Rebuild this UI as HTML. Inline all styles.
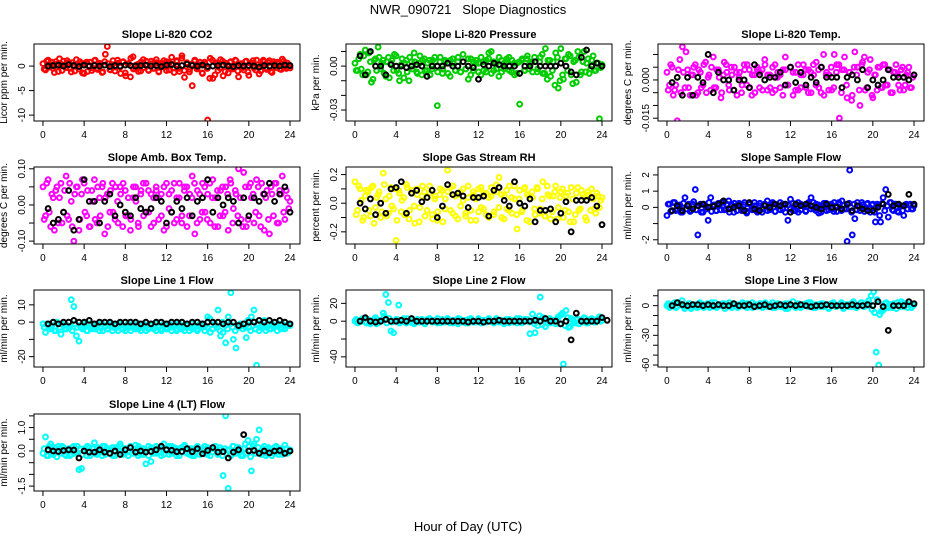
<!DOCTYPE html>
<html><head><meta charset="utf-8"><style>
html,body{margin:0;padding:0;background:#fff}
svg{display:block;font-family:"Liberation Sans",sans-serif}
</style></head><body>
<svg id="chart" width="936" height="540" viewBox="0 0 936 540" xmlns="http://www.w3.org/2000/svg">
<text x="468" y="14" text-anchor="middle" font-size="13" xml:space="preserve">NWR_090721   Slope Diagnostics</text>
<text x="468" y="531" text-anchor="middle" font-size="13">Hour of Day (UTC)</text>
</svg>
<script>
const xTicks=[0,4,8,12,16,20,24];
const titles=["Slope Li-820 CO2","Slope Li-820 Pressure","Slope Li-820 Temp.","Slope Amb. Box Temp.","Slope Gas Stream RH","Slope Sample Flow","Slope Line 1 Flow","Slope Line 2 Flow","Slope Line 3 Flow","Slope Line 4 (LT) Flow"];
const yLabels=["Licor ppm per min.","kPa per min.","degrees C per min.","degrees C per min.","percent per min.","ml/min per min.","ml/min per min.","ml/min per min.","ml/min per min.","ml/min per min."];
const colors=["#ff0000","#00cc00","#ff00ff","#ff00ff","#ffff00","#0000ff","#00ffff","#00ffff","#00ffff","#00ffff"];
const yDomains=[[4.5,-11.2],[0.0151,-0.0375],[0.0141,-0.0161],[0.105,-0.108],[0.253,-0.285],[2.49,-2.26],[18.6,-26],[35,-51.4],[15.8,-62],[1.58,-1.71]];
const yTickVals=[[-10,-5,0],[0.01,0,-0.01,-0.02,-0.03],[0.01,0.005,0,-0.005,-0.01,-0.015],[0.1,0.05,0,-0.05,-0.1],[0.2,0.1,0,-0.1,-0.2],[2,1,0,-1,-2],[10,0,-10,-20],[20,0,-20,-40],[10,0,-10,-20,-30,-40,-50,-60],[1.5,1.0,0.5,0,-0.5,-1.0,-1.5]];
const yTickText=[["-10","-5","0"],["","0.00","","","-0.03"],["","","0.000","","","-0.015"],["0.10","","0.00","","-0.10"],["0.2","","0.0","","-0.2"],["2","1","0","","-2"],["10","0","","-20"],["20","0","","-40"],["","0","","","-30","","","-60"],["","1.0","","0.0","","","-1.5"]];
// colored series A and B (spread evenly over 0..24 h)
const seriesA=[
[0.5,-0.8,1.2,0.3,-0.5,0.9,-1.1,0.4,1.0,-0.3,0.7,-1.2,0.2,1.3,-0.6,0.5,-1.5,0.8,0.1,-0.9,1.1,-0.4,0.6,-1.3,0.9,4.0,-0.7,0.3,-1.0,1.2,-0.2,0.8,-1.4,0.5,-2.2,1.9,-0.6,0.4,-1.0,1.3,0.2,-0.8,1.0,-0.5,0.7,-1.2,0.3,1.1,-0.9,0.6,1.8,-0.4,0.9,-1.1,2.1,-2.3,0.5,-0.7,-4.0,1.2,-0.3,0.8,-1.5,0.4,-11.0,1.6,-2.5,0.7,-0.9,1.3,-2.0,0.6,-1.4,0.9,-0.3,1.1,-2.2,0.5,-0.8,1.0,-1.9,0.6,-0.4,1.2,-1.6,0.3,0.9,-0.7,1.1,-1.3,0.5,0.8,-0.6,1.4,-0.2,0.6,-0.4],
[0.002,-0.003,0.008,-0.006,0.011,-0.004,0.003,-0.009,0.005,0.013,-0.002,0.004,-0.007,0.006,0.002,-0.003,0.007,-0.005,0.001,-0.008,0.004,-0.010,0.003,0.009,-0.004,0.002,-0.006,0.005,-0.003,0.004,-0.002,0.006,-0.027,0.003,-0.005,0.004,0.002,-0.007,0.005,-0.003,0.003,-0.004,0.008,-0.002,0.005,-0.006,0.003,0.002,-0.004,0.006,-0.003,0.004,0.009,-0.005,0.003,-0.002,0.006,-0.004,0.002,0.005,-0.003,0.004,-0.006,0.002,-0.026,0.005,-0.003,0.007,0.002,-0.004,0.003,-0.002,0.006,-0.005,0.012,0.004,-0.007,0.003,0.009,-0.015,0.012,-0.009,0.005,0.008,-0.006,0.003,-0.011,0.006,-0.004,0.010,0.002,-0.005,0.004,-0.003,0.002,-0.036,0.001],
[0.003,-0.002,0.005,-0.004,-0.016,0.008,0.013,-0.003,0.004,-0.006,0.002,0.006,-0.005,0.003,-0.002,0.007,0.001,-0.004,0.009,-0.003,0.004,-0.007,0.002,0.006,-0.002,0.005,-0.004,0.003,0.001,-0.005,0.006,-0.002,0.004,-0.006,0.002,0.005,-0.003,0.004,0.008,-0.004,0.002,-0.005,0.006,0.001,-0.003,0.004,0.009,-0.002,0.005,-0.006,0.003,-0.004,0.002,0.006,-0.003,0.004,-0.005,0.002,0.007,-0.003,0.005,-0.006,0.003,0.002,-0.004,0.010,0.006,-0.015,0.004,0.009,-0.007,0.003,-0.006,0.011,0.005,-0.010,0.007,-0.004,0.003,0.008,-0.007,0.002,0.005,-0.003,0.006,-0.002,0.004,-0.005,0.003,0.006,-0.002,0.004,-0.004,0.002,0.005,-0.003,0.002],
[0.05,-0.03,0.07,-0.06,0.02,0.04,-0.05,0.06,-0.02,0.08,-0.04,0.01,-0.10,0.05,-0.07,0.03,0.06,-0.03,-0.06,0.04,0.07,-0.05,0.02,0.05,-0.08,0.03,-0.02,0.06,-0.04,0.01,0.05,-0.06,0.04,-0.03,-0.07,0.02,0.05,-0.05,0.03,0.06,-0.02,0.04,-0.06,0.02,0.05,-0.04,0.03,-0.07,0.06,-0.01,0.04,-0.05,0.02,0.06,-0.03,0.05,-0.06,0.03,0.08,-0.08,0.04,-0.04,0.06,-0.02,0.03,-0.05,0.07,0.02,-0.06,0.04,-0.03,0.05,-0.07,0.06,-0.01,0.03,0.10,-0.04,0.09,-0.06,0.05,0.02,-0.05,0.07,-0.03,0.06,-0.07,0.04,-0.08,0.03,0.06,-0.05,0.04,0.08,-0.04,0.02,0.01],
[0.15,-0.05,0.10,-0.12,0.05,0.08,-0.09,0.12,-0.03,0.06,-0.10,0.21,0.03,-0.07,0.11,-0.04,-0.26,0.09,-0.06,0.04,0.13,-0.11,0.07,-0.02,0.10,-0.13,0.05,0.08,-0.05,0.12,-0.08,0.03,-0.12,0.06,0.09,-0.04,0.23,0.11,-0.07,0.05,-0.11,0.08,0.02,-0.09,0.12,-0.05,0.06,-0.12,0.10,-0.03,0.07,-0.08,0.04,0.11,-0.06,0.08,0.18,-0.10,0.05,-0.04,0.12,-0.07,0.03,-0.18,0.09,-0.05,0.11,0.06,-0.13,0.04,-0.08,0.10,-0.04,0.15,-0.09,0.06,-0.11,0.05,0.12,-0.03,0.08,-0.10,0.05,-0.06,0.11,-0.13,0.07,-0.05,0.09,0.04,-0.12,0.06,0.10,-0.04,0.07,-0.03,0.04],
[-0.5,0.2,-0.2,0.3,-0.1,0.15,-0.3,0.6,0.1,-0.25,0.2,1.1,-1.7,0.2,-0.3,0.05,-0.8,0.6,0.1,-0.2,0.25,-0.15,0.3,-0.1,0.4,0.2,-0.3,0.1,0.25,-0.2,0.15,-0.35,0.2,-0.1,0.3,-0.2,0.1,-0.3,0.2,0.4,-0.15,0.2,-0.25,0.1,0.3,-0.1,0.2,-0.8,0.5,-0.2,0.15,-0.3,0.2,0.1,-0.2,0.3,0.6,-0.1,0.2,-0.35,0.1,0.25,-0.2,0.15,-0.1,0.3,-0.25,0.2,0.4,-0.1,-2.1,2.3,-1.7,-0.7,0.3,-0.2,0.15,-0.1,0.25,-0.3,0.2,-0.9,0.1,-0.9,0.6,1.1,-0.6,0.3,-0.2,0.2,-0.3,0.1,-0.5,0.2,0.15,-0.1,0.1],
[-1,-6,-2,-3,0,-5,-1,-7,-2,-4,-3,13,9,-8,-11,-3,-2,-5,-1,-4,-3,-2,-5,-1,-3,-4,-2,-5,-1,-3,-2,-4,-5,-1,-3,-2,-4,-1,-5,-3,-2,-4,-1,-3,-5,-2,-4,-1,-3,-2,-5,-1,-4,-3,-2,-5,-1,-3,-4,-2,-5,-1,-3,-2,3,-6,-4,-2,7,-8,-6,-12,3,17,-10,-15,-3,-2,-1,-9,-3,3,7,-25,-5,-2,1,-3,-4,-1,-2,-5,-3,-1,-4,-2,-2],
[0,-2,1,3,-1,2,-3,0,4,-2,1,9,30,21,-11,-13,2,18,-1,3,-2,0,2,-3,1,-1,2,-2,0,3,-1,1,-2,0,2,-1,3,-2,1,0,-3,2,-1,1,-2,3,0,-1,2,-2,1,-1,3,0,-2,2,-1,1,-3,0,2,-1,1,-2,3,-1,0,2,-14,8,-13,-5,27,4,-6,2,-2,1,-3,5,7,-48,12,-7,3,-1,2,-3,1,4,-2,0,3,-1,2,5,1],
[0,-2,1,3,-1,2,5,-3,0,2,-1,1,-2,3,0,-1,2,-2,1,3,-1,0,2,-3,1,-1,2,0,-2,1,3,-1,2,0,-2,1,-1,2,0,3,-1,1,-2,0,2,-1,1,-3,2,0,4,-1,1,-2,0,2,-1,3,0,-2,1,-1,2,0,-2,1,3,-1,0,2,-3,1,-1,2,4,-2,0,3,-1,2,5,10,14,-47,-60,-6,-4,3,-2,1,2,-3,0,4,-1,2,1,-2,1],
[-0.1,0.6,-0.2,0.3,-0.15,0.1,0.2,-0.1,0.15,-0.2,0.1,-0.15,0.2,-0.05,-0.8,-0.75,0.1,-0.2,0.15,-0.1,0.35,-0.15,0.1,-0.2,0.2,0.05,-0.1,0.15,-0.2,0.1,0.3,-0.15,0.1,-0.05,0.2,-0.1,0.25,-0.2,0.1,-0.15,-0.55,0.2,-0.45,0.1,-0.1,0.15,-0.2,0.3,0.1,-0.15,0.2,-0.05,0.1,-0.2,0.15,0.25,-0.1,0.1,-0.2,0.05,0.2,-0.15,0.1,-0.1,0.15,-0.2,0.1,0.2,-0.15,0.05,-1.05,1.5,-1.6,-0.2,0.2,-0.1,0.15,-0.2,0.1,-0.1,0.2,-0.85,0.3,0.5,0.9,-0.15,0.2,-0.1,0.1,-0.2,0.15,-0.05,0.1,-0.15,0.25,-0.1,0.05]
];
const seriesB=[
[-0.6,1.0,-0.2,0.8,-1.3,0.4,1.5,-0.9,0.2,1.1,-0.5,0.7,-1.0,0.3,0.9,-1.4,0.6,-1.1,0.8,-0.4,1.2,-0.7,0.3,-1.2,2.4,0.5,-0.8,1.1,-0.2,0.6,-1.5,0.9,-2.0,0.4,1.6,-0.6,0.2,-1.1,0.8,-0.3,1.0,-0.9,0.5,-0.4,1.3,-1.1,0.6,-0.2,0.9,-0.8,0.4,-1.3,1.1,-0.5,1.6,-0.9,0.7,-1.2,0.4,1.0,-0.6,0.3,-1.4,0.8,-0.5,-2.5,1.2,-1.8,0.6,-0.4,1.0,-1.1,0.3,0.8,-0.6,1.2,-1.0,0.4,-0.3,0.9,-1.2,0.5,1.1,-0.8,0.3,-1.0,1.2,-0.4,0.7,-1.1,0.9,-0.3,0.5,-0.7,1.0,-0.5,0.2],
[-0.003,0.005,-0.002,0.007,-0.006,0.009,-0.011,0.004,-0.003,0.006,0.002,-0.005,0.003,-0.008,0.004,0.008,-0.003,-0.010,0.005,0.002,-0.004,0.006,-0.002,0.003,-0.005,0.007,0.004,-0.003,0.002,-0.006,0.004,0.003,-0.004,0.006,-0.002,0.003,-0.005,0.004,0.002,-0.003,0.006,-0.004,0.003,-0.002,-0.009,0.005,-0.003,0.004,0.002,-0.006,0.003,-0.004,0.005,0.010,-0.003,0.002,-0.007,0.004,-0.002,0.003,0.006,-0.004,0.002,-0.005,0.003,0.004,-0.003,0.005,-0.002,0.003,0.006,-0.004,0.003,0.008,-0.005,-0.009,0.004,-0.003,-0.013,0.006,-0.010,-0.006,0.005,-0.003,0.007,-0.012,0.004,0.010,-0.006,0.003,-0.004,0.005,-0.002,0.007,-0.003,0.002,-0.001],
[-0.004,0.006,-0.006,-0.002,0.004,-0.005,0.003,0.011,-0.003,0.002,0.005,-0.006,0.004,-0.003,0.006,-0.005,0.002,0.005,-0.003,0.004,0.001,-0.005,0.007,0.003,-0.004,0.002,0.005,-0.006,0.003,-0.002,0.004,0.006,-0.003,0.002,-0.005,0.004,0.003,-0.004,0.006,0.002,-0.003,0.005,-0.004,0.003,0.002,-0.006,0.004,-0.002,0.005,0.003,-0.004,0.006,-0.003,0.002,0.004,-0.005,0.003,0.006,-0.002,0.004,-0.005,0.010,0.002,-0.004,0.005,-0.003,0.003,0.006,-0.005,0.004,-0.002,0.003,-0.008,0.005,0.002,-0.004,0.006,0.009,-0.003,0.004,-0.006,0.002,-0.004,0.005,-0.003,0.006,-0.002,0.004,-0.005,0.003,0.002,-0.004,0.005,-0.002,0.003,-0.003,0.001],
[-0.04,0.06,-0.02,0.03,-0.07,0.05,0.02,-0.05,0.04,-0.03,0.06,-0.06,0.03,0.05,-0.04,0.07,-0.02,0.04,-0.06,0.01,-0.04,0.05,-0.03,0.06,0.02,-0.06,0.04,-0.02,0.05,-0.05,0.03,0.06,-0.03,0.02,-0.04,0.05,0.01,-0.06,0.04,-0.03,0.06,-0.02,0.03,-0.05,0.04,0.02,-0.03,0.05,-0.06,0.03,-0.02,0.06,-0.04,0.02,-0.05,0.04,0.05,-0.03,0.02,0.06,-0.05,0.03,-0.02,0.05,-0.04,0.06,0.02,-0.06,0.04,-0.03,0.05,-0.02,0.03,0.07,-0.05,0.04,-0.03,0.02,-0.06,0.05,-0.04,0.06,0.03,-0.02,0.05,-0.06,0.03,0.02,-0.04,0.05,-0.03,0.06,-0.05,0.03,-0.02,0.04,-0.01],
[-0.08,0.12,0.02,-0.10,0.09,-0.05,0.11,-0.14,0.04,0.08,-0.06,0.13,-0.09,0.05,-0.02,0.10,-0.12,0.07,0.02,-0.08,0.11,-0.05,0.09,-0.14,0.06,-0.03,0.12,-0.09,0.04,0.07,-0.11,0.05,-0.06,0.10,-0.13,0.03,0.08,-0.05,0.12,-0.09,0.06,-0.02,0.10,-0.07,0.04,-0.12,0.08,0.03,-0.06,0.11,-0.04,0.07,-0.10,0.05,-0.08,0.13,-0.03,0.06,-0.11,0.09,-0.05,0.04,0.12,-0.08,0.03,-0.06,0.10,-0.12,0.05,0.08,-0.04,0.11,-0.07,0.03,-0.09,0.12,0.05,-0.06,0.08,-0.11,0.04,0.10,-0.05,0.07,-0.13,0.03,-0.08,0.11,-0.04,0.06,-0.10,0.08,-0.05,0.03,-0.07,0.05,0.02],
[0.2,-0.25,0.3,-0.2,0.1,-0.3,0.25,-0.1,0.2,-0.2,0.35,-0.15,0.1,-0.3,0.2,-0.1,0.3,-0.25,0.15,-0.2,0.1,0.3,-0.15,0.2,-0.3,0.1,0.25,-0.2,0.15,-0.1,0.3,-0.25,0.2,-0.15,0.1,-0.3,0.25,-0.1,0.2,-0.2,0.15,0.3,-0.25,0.1,-0.15,0.2,-0.3,0.15,-0.1,0.25,-0.2,0.3,-0.15,0.1,-0.25,0.2,-0.1,0.3,-0.2,0.15,-0.3,0.1,0.25,-0.15,0.2,-0.25,0.1,0.3,-0.2,0.15,-0.1,0.25,-0.3,0.2,-0.15,0.1,0.3,-0.25,0.2,-0.1,0.15,-0.3,0.2,-0.5,0.25,-0.2,0.1,0.3,-0.15,0.2,-0.25,0.1,-0.2,0.15,-0.1,0.2,-0.1],
[-3,-1,-4,-2,-5,0,-3,-1,-4,-2,-3,-5,-1,-3,-2,-4,-1,-5,-3,-2,-4,-1,-3,-5,-2,-4,-1,-3,-2,-5,-1,-4,-3,-2,-5,-1,-3,-4,-2,-1,-5,-3,-2,-4,-1,-3,-5,-2,-4,-1,-3,-2,-5,-1,-4,-3,-2,-5,-1,-3,-4,-2,-1,-5,-3,2,-4,-1,-3,-5,0,-2,-4,-1,-3,-5,-2,-1,-4,-3,1,-5,-2,-4,-1,-3,-2,-5,-1,-4,-3,-2,-1,-4,-3,-2,-1],
[2,-1,0,3,-2,1,-1,2,-3,0,1,6,-2,3,-1,0,2,-2,1,-1,3,0,-2,1,2,-1,0,-3,2,1,-1,0,3,-2,1,-1,2,0,-2,1,3,-1,0,-2,2,1,-1,0,3,-2,1,-1,2,0,-2,3,1,-1,0,2,-2,1,-1,3,0,-2,2,1,-1,0,-3,2,6,-4,1,-2,3,-1,0,2,-3,9,-5,4,-6,1,-2,2,0,-1,3,-2,1,0,-1,2,0],
[2,-1,0,-2,3,1,-1,0,2,-3,1,0,-1,2,-2,1,0,3,-1,-2,1,0,2,-1,3,-2,0,1,-1,2,0,-2,1,3,-1,0,2,-2,1,-1,0,3,-2,1,0,-1,2,-3,1,0,-2,2,-1,1,0,3,-1,-2,1,0,2,-1,0,-3,2,1,-1,0,3,-2,1,0,-1,2,-2,1,3,-1,0,2,-4,-7,6,-9,-5,2,-1,1,-2,0,3,-1,2,0,-2,1,0],
[0.1,-0.2,0.2,-0.1,0.15,-0.25,0.1,0.2,-0.15,0.05,-0.2,0.15,-0.1,0.2,0.1,-0.15,0.05,0.2,-0.2,0.1,-0.1,0.15,-0.05,0.2,-0.15,0.1,0.05,-0.2,0.15,-0.1,0.2,-0.05,0.1,-0.2,0.15,0.05,-0.1,0.2,-0.15,0.1,0.05,-0.2,0.15,-0.1,0.2,-0.05,0.1,-0.15,0.05,0.2,-0.1,0.15,-0.2,0.1,-0.05,0.2,0.05,-0.15,0.1,-0.2,0.15,0.05,-0.1,0.2,-0.15,0.1,-0.05,0.2,-0.1,0.15,-0.2,0.1,0.05,-0.15,0.2,-0.1,0.15,0.05,-0.2,0.3,0.45,-0.25,0.2,-0.1,0.15,-0.05,0.1,-0.2,0.15,0.05,-0.1,0.2,-0.15,0.1,-0.05,0.1,-0.05]
];
// black points at 0.5 h steps (0.5 .. 24)
const blackVals=[
[0.0,0.1,0.2,0.0,0.3,0.1,-0.1,0.2,0.0,0.1,0.0,0.2,-0.1,0.1,0.0,0.2,0.1,0.0,0.1,0.2,0.0,0.1,-0.1,0.2,0.3,0.0,0.1,0.4,0.1,0.0,0.2,-0.1,0.0,0.1,0.2,0.0,-0.1,0.1,0.0,0.1,0.0,-0.2,0.1,0.0,0.1,0.0,0.2,0.1],
[0.007,-0.006,0.010,0.0,0.0,-0.006,0.001,0.0,0.0,-0.001,0.0,0.001,0.0,-0.007,0.0,0.0,0.0,0.002,0.0,0.0,0.003,0.0,-0.001,-0.009,0.001,0.0,0.002,0.001,0.0,0.0,0.0,-0.005,0.0,0.0,0.003,0.0,0.0,0.0,0.0,0.002,0.0,-0.004,-0.006,0.006,0.011,0.0,0.002,0.0],
[-0.001,0.001,-0.006,0.001,-0.006,0.001,-0.001,0.010,-0.005,0.003,0.0,0.0,-0.004,0.0,0.000,-0.003,0.006,0.002,0.0,0.001,0.001,0.003,-0.002,0.005,-0.001,0.003,-0.002,0.001,-0.001,0.005,0.001,0.001,0.001,-0.003,0.001,0.002,0.0,0.004,-0.003,0.0,-0.002,0.0,0.004,0.001,0.001,0.001,0.0,0.002],
[-0.01,-0.05,-0.04,-0.02,0.04,-0.07,-0.04,0.07,0.01,0.01,-0.05,0.01,0.03,-0.03,0.0,-0.02,-0.03,0.02,-0.01,-0.02,-0.01,0.02,0.01,-0.05,-0.02,0.01,-0.01,0.02,-0.03,0.01,0.02,0.07,-0.02,0.02,0.0,0.02,0.01,-0.05,0.02,-0.03,0.02,0.01,0.03,0.06,0.01,0.03,0.05,-0.02],
[0.0,-0.04,0.03,-0.08,0.0,-0.07,0.10,0.11,0.15,-0.07,0.07,0.09,0.01,0.04,0.09,-0.1,-0.02,0.13,0.06,0.07,0.05,-0.03,0.04,0.04,0.05,-0.09,0.09,0.11,0.02,-0.02,0.15,0.0,-0.02,0.03,-0.13,-0.05,-0.05,-0.04,-0.13,-0.07,0.01,-0.2,0.02,0.02,0.02,0.04,-0.02,-0.15],
[-0.2,0.1,-0.2,0.1,-0.1,0.1,0.2,0.0,0.05,0.2,0.4,-0.1,0.0,0.1,-0.2,0.3,-0.1,-0.2,0.1,0.0,0.2,0.1,0.2,-0.3,0.2,0.1,0.2,0.1,0.0,-0.1,0.2,0.0,0.0,-0.1,0.2,-0.2,0.1,-0.1,-0.2,-0.2,0.0,0.2,0.8,0.1,0.2,0.1,0.8,0.2],
[-1,0,-1,0,0,1,0,0,1,-1,0,0,0,-1,0,0,0,0,-1,0,-1,0,0,-1,0,0,0,-1,0,0,-1,0,0,0,-1,0,0,-2,-1,0,0,1,0,1,0,1,0,-1],
[0,4,0,-1,0,2,0,0,1,0,3,0,0,0,0,0,0,0,0,0,0,-1,0,0,-1,0,0,1,0,0,0,0,0,0,1,0,3,0,0,-3,0,-21,9,0,0,0,0,4,1],
[0,3,1,0,1,1,0,1,0,1,0,0,2,0,0,1,-1,0,1,-1,0,1,0,1,0,1,0,-1,0,0,1,0,0,0,0,1,0,0,1,0,4,-1,-25,0,0,0,4,2],
[0.05,0.0,-0.02,0.02,0.05,0.04,-0.3,0.0,-0.05,-0.05,0.05,-0.05,-0.1,0.0,-0.15,0.05,0.15,-0.05,0.0,-0.05,-0.02,0.05,0.2,0.05,0.03,-0.03,-0.02,0.1,-0.03,0.1,-0.12,0.02,0.15,-0.05,-0.03,-0.3,-0.05,0.05,0.7,0.0,0.02,-0.1,0.0,-0.08,0.0,0.02,-0.1,0.0]
];
const svg=document.getElementById('chart');
const NS='http://www.w3.org/2000/svg';
function mk(tag,attrs,parent){const e=document.createElementNS(NS,tag);for(const k in attrs)e.setAttribute(k,attrs[k]);parent.appendChild(e);return e;}
const BW=266,BH=77,XMIN=-0.87,XMAX=24.97;
const boxLefts=[34,346,658];
const boxTops=[44,167,290,414];
titles.forEach((title,p)=>{
  const L=boxLefts[p%3],T=boxTops[Math.floor(p/3)];
  const g=mk('g',{},svg);
  
  
  const xs=h=>L+(h-XMIN)/(XMAX-XMIN)*BW;
  const yd=yDomains[p];
  const ys=v=>T+(yd[0]-v)/(yd[0]-yd[1])*BH;
  const t=mk('text',{x:L+BW/2,y:T-6,'text-anchor':'middle','font-size':'11','font-weight':'bold'},g);
  t.textContent=title;
  
  
  const yl=mk('text',{x:0,y:0,'text-anchor':'middle','font-size':'10',transform:`translate(${L-27},${T+BH/2}) rotate(-90)`},g);
  yl.textContent=yLabels[p];
  
  
  const cid='c'+p;
  const cp=mk('clipPath',{id:cid},g);mk('rect',{x:L,y:T,width:BW,height:BH},cp);
  const pts=mk('g',{'clip-path':`url(#${cid})`,fill:'none','stroke-width':'2'},g);
  
  
  [seriesA[p],seriesB[p]].forEach((arr,si)=>{
    const n=arr.length;
    arr.forEach((v,i)=>{
      const h=(si===0?0:0.12)+i*(24-(si===0?0:0.24))/(n-1);
      const c=mk('circle',{cx:xs(h),cy:ys(v),r:2.4,stroke:colors[p]},pts);
      
      
    });
  });
  blackVals[p].forEach((v,i)=>{
    const c=mk('circle',{cx:xs(0.5+i*0.5),cy:ys(v),r:2.4,stroke:'#000'},pts);
    
    
  });
  const box=mk('rect',{x:L,y:T,width:BW,height:BH,fill:'none',stroke:'#000','stroke-width':'1'},g);
  
  
  xTicks.forEach(tk=>{
    const x=xs(tk);
    mk('line',{x1:x,x2:x,y1:T+BH,y2:T+BH+5,stroke:'#000'},g);
    const tt=mk('text',{x:x,y:T+BH+17,'text-anchor':'middle','font-size':'10'},g);
    tt.textContent=tk;
    
    
  });
  yTickVals[p].forEach((tk,i)=>{
    const y=ys(tk);
    mk('line',{x1:L-5,x2:L,y1:y,y2:y,stroke:'#000'},g);
    const lab=yTickText[p][i];
    if(lab){
      const tt=mk('text',{x:0,y:0,'text-anchor':'middle','font-size':'10',transform:`translate(${L-9},${y}) rotate(-90)`},g);
      tt.textContent=lab;
      
      
    }
  });
});
</script>
</body></html>
